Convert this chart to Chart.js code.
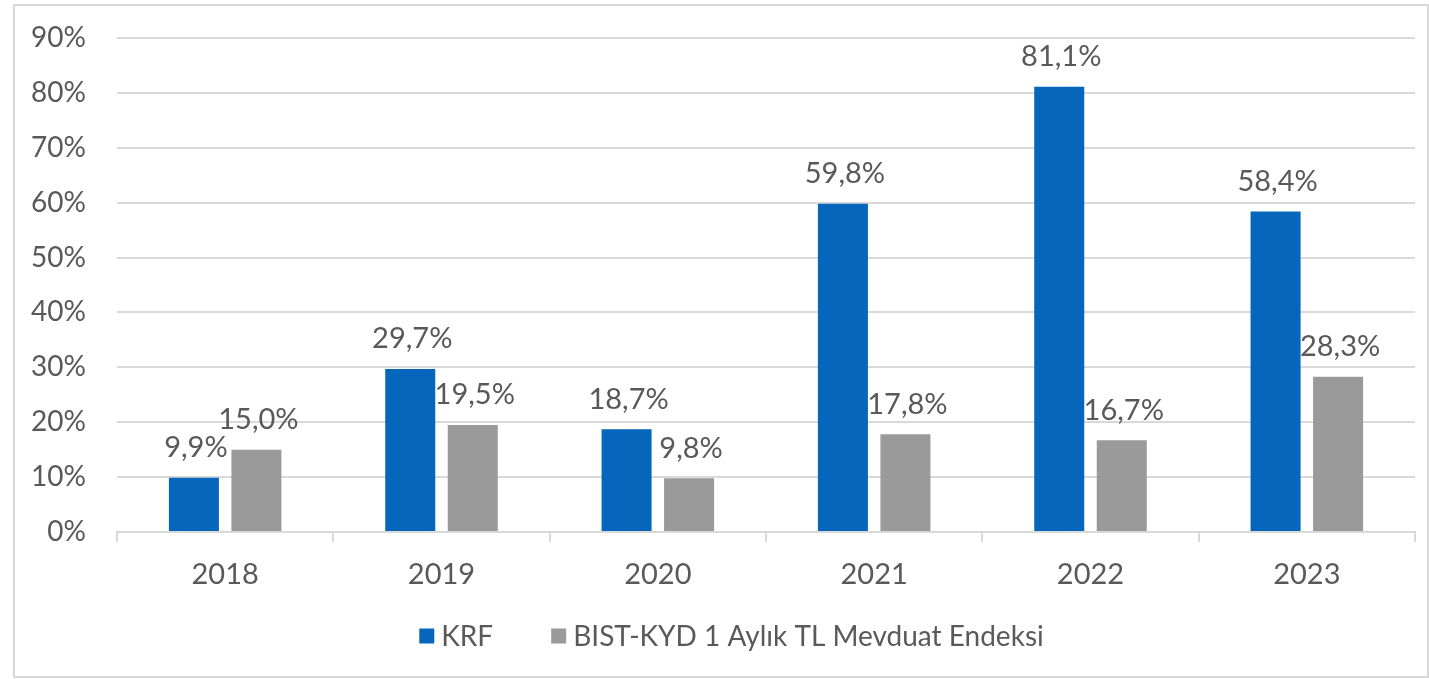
<!DOCTYPE html>
<html>
<head>
<meta charset="utf-8">
<script src="https://cdn.jsdelivr.net/npm/chart.js@4"></script>
<style>
  html, body { margin: 0; padding: 0; background: #fff; }
  #wrap { position: absolute; left: 0; top: 0; width: 1429px; height: 679px; }
</style>
</head>
<body>
<div id="wrap"><canvas id="chartCanvas"></canvas></div>
<script>
var years = ['2018', '2019', '2020', '2021', '2022', '2023'];
var krfValues = [9.9, 29.7, 18.7, 59.8, 81.1, 58.4];
var bistValues = [15.0, 19.5, 9.8, 17.8, 16.7, 28.3];
var yTicks = [0, 10, 20, 30, 40, 50, 60, 70, 80, 90];

var textColor = '#595959';
var gridColor = '#d9d9d9';
var fontFamily = 'Lato, "DejaVu Sans", sans-serif';

function pct(v) {
    return v.toFixed(1).replace('.', ',') + '%';
}

// border around the whole picture
var frame = {
    id: 'frame',
    beforeDraw: function (chart) {
        var c = chart.ctx;
        c.save();
        c.fillStyle = '#fff';
        c.fillRect(0, 0, chart.width, chart.height);
        c.strokeStyle = '#d9d9d9';
        c.lineWidth = 2;
        c.strokeRect(14, 5, chart.width - 15, chart.height - 7);
        c.restore();
    }
};

// value labels above the bars
var barLabels = {
    id: 'barLabels',
    afterDatasetsDraw: function (chart) {
        var c = chart.ctx;
        c.save();
        c.font = '29px ' + fontFamily;
        c.fillStyle = textColor;
        c.textAlign = 'center';
        c.textBaseline = 'middle';
        chart.data.datasets.forEach(function (ds, i) {
            chart.getDatasetMeta(i).data.forEach(function (bar, j) {
                c.fillText(pct(ds.data[j]), bar.x + 2, bar.y - 30);
            });
        });
        c.restore();
    }
};

// legend drawn by hand so the gap between the two entries can be wide
var bottomLegend = {
    id: 'bottomLegend',
    afterDraw: function (chart) {
        var c = chart.ctx;
        var box = 15, gap = 7, itemGap = 58, y = 636;
        c.save();
        c.font = '28px ' + fontFamily;
        c.textBaseline = 'middle';
        var items = chart.data.datasets.map(function (ds) {
            return { text: ds.label, color: ds.backgroundColor, w: c.measureText(ds.label).width };
        });
        var total = 0;
        items.forEach(function (it, i) {
            total += box + gap + it.w + (i > 0 ? itemGap : 0);
        });
        var x = chart.width / 2 + 17 - total / 2;
        items.forEach(function (it) {
            c.fillStyle = it.color;
            c.fillRect(x, y - box / 2, box, box);
            c.fillStyle = textColor;
            c.fillText(it.text, x + box + gap, y + 1);
            x += box + gap + it.w + itemGap;
        });
        c.restore();
    }
};

var ctx = document.getElementById('chartCanvas').getContext('2d');
var myChart = new Chart(ctx, {
    type: 'bar',
    data: {
        labels: years,
        datasets: [{
            label: 'KRF',
            data: krfValues,
            backgroundColor: '#0566bb'
        }, {
            label: 'BIST-KYD 1 Aylık TL Mevduat Endeksi',
            data: bistValues,
            backgroundColor: '#9a9a9a'
        }]
    },
    options: {
        responsive: true,
        maintainAspectRatio: false,
        animation: false,
        categoryPercentage: 0.578,
        barPercentage: 0.8,
        layout: {
            padding: { top: 38, right: 14, bottom: 0, left: 0 }
        },
        scales: {
            x: {
                grid: {
                    display: true,
                    drawOnChartArea: false,
                    drawTicks: true,
                    tickLength: 10,
                    color: gridColor,
                    lineWidth: 2
                },
                border: { display: true, color: gridColor, width: 2 },
                ticks: {
                    color: textColor,
                    font: { family: fontFamily, size: 29 },
                    padding: 15
                },
                afterFit: function (scale) { scale.height = 147; }
            },
            y: {
                min: 0,
                max: 90,
                afterBuildTicks: function (scale) {
                    scale.ticks = yTicks.map(function (v) { return { value: v }; });
                },
                grid: {
                    color: gridColor,
                    lineWidth: 2,
                    drawTicks: false
                },
                border: { display: false },
                ticks: {
                    color: textColor,
                    font: { family: fontFamily, size: 28 },
                    padding: 31,
                    callback: function (v) { return v + '%'; }
                },
                afterFit: function (scale) {
                    scale.width = 117;
                    scale.paddingTop = 0;
                    scale.paddingBottom = 0;
                }
            }
        },
        plugins: {
            legend: { display: false },
            tooltip: { enabled: false }
        }
    },
    plugins: [frame, barLabels, bottomLegend]
});
</script>
</body>
</html>
